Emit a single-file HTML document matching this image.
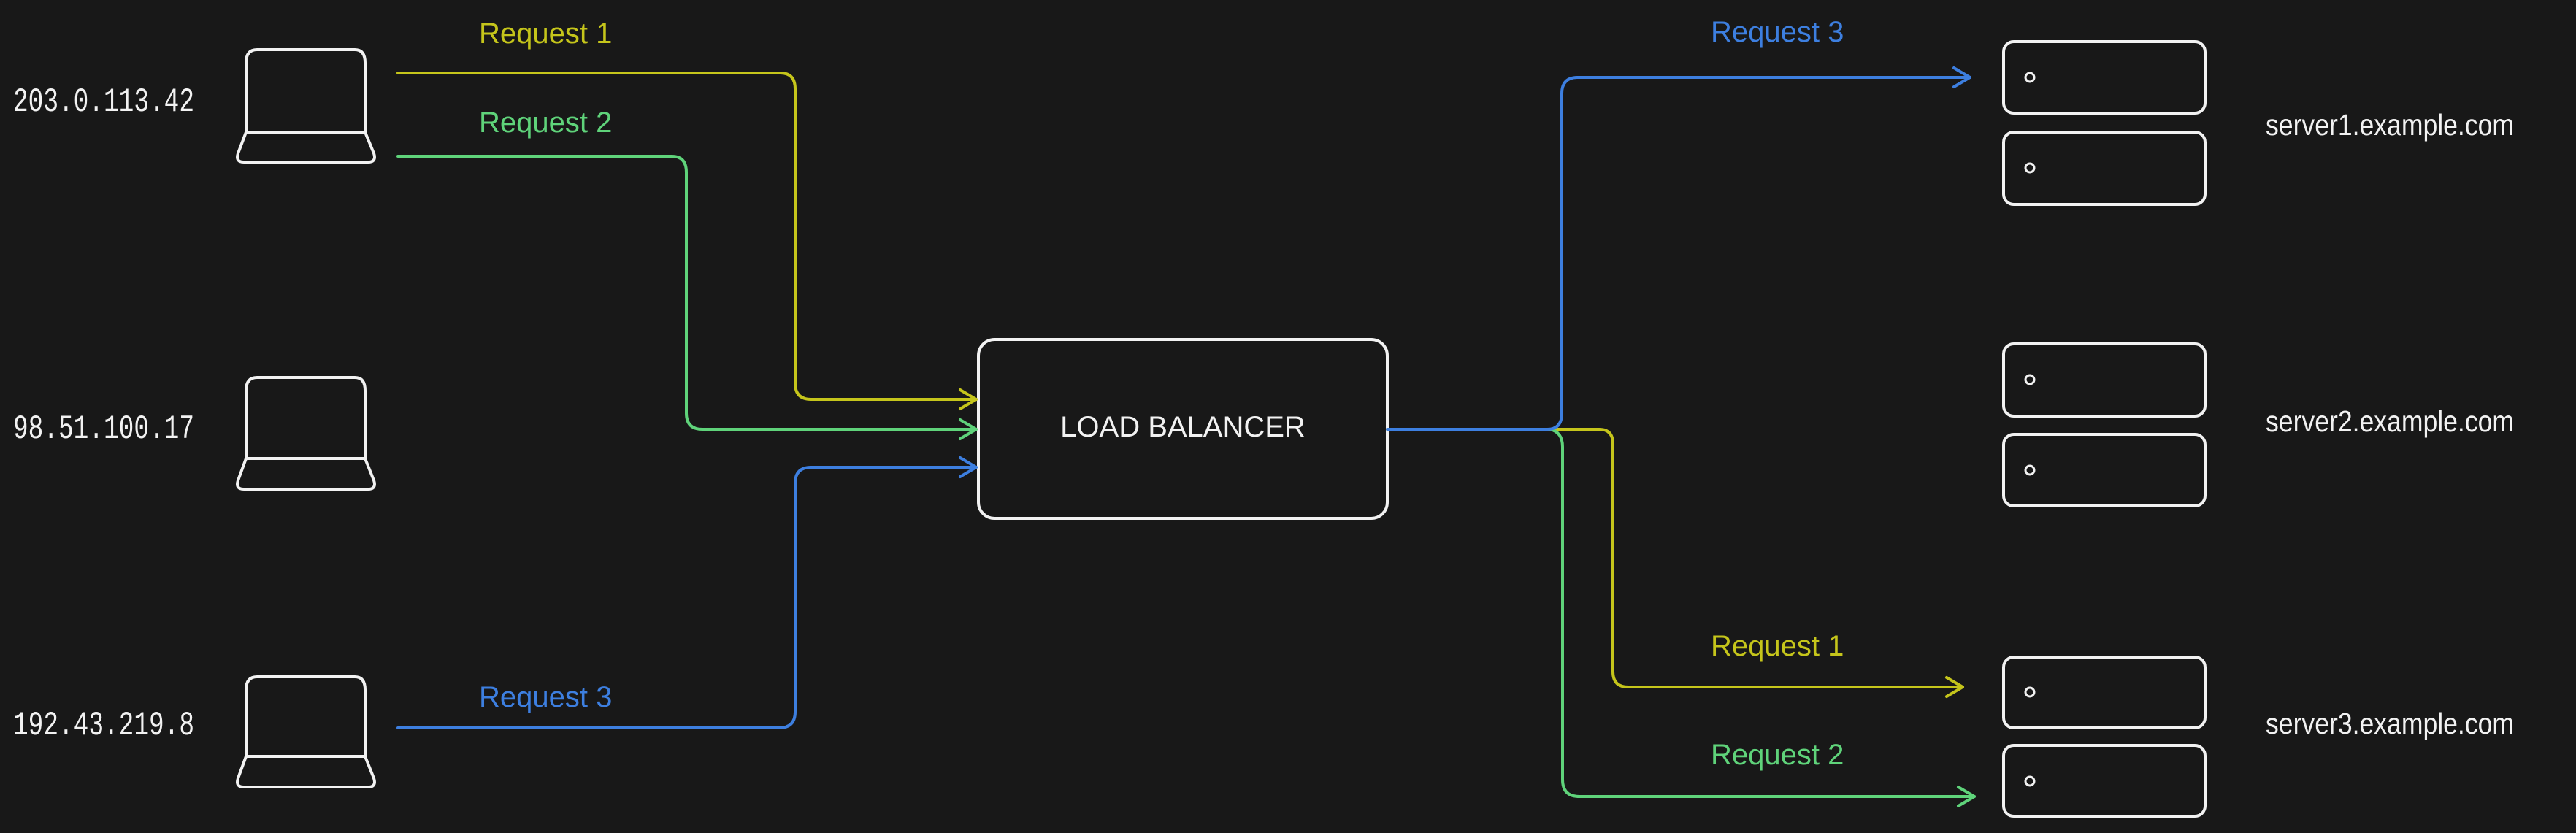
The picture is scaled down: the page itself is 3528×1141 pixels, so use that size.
<!DOCTYPE html>
<html><head><meta charset="utf-8"><style>
html,body{margin:0;padding:0;background:#181818;}
svg{display:block}
.s{font-family:"Liberation Sans",sans-serif;}
.m{font-family:"Liberation Mono",monospace;}
</style></head><body>
<svg width="3528" height="1141" viewBox="0 0 3528 1141" xmlns="http://www.w3.org/2000/svg">
<rect width="3528" height="1141" fill="#181818"/>
<g fill="none" stroke="#f2f2f2" stroke-width="4" stroke-linejoin="round">
  <path d="M352 68 H486 Q500 68 500 86 V181 H337 V86 Q337 68 352 68 Z"/>
  <path d="M337 181 L326 210 Q322 222 334 222 H504 Q516 222 512 210 L500 181"/>
  <path d="M352 517 H486 Q500 517 500 535 V628 H337 V535 Q337 517 352 517 Z"/>
  <path d="M337 628 L326 658 Q322 670 334 670 H504 Q516 670 512 658 L500 628"/>
  <path d="M352 927 H486 Q500 927 500 945 V1036 H337 V945 Q337 927 352 927 Z"/>
  <path d="M337 1036 L326 1066 Q322 1078 334 1078 H504 Q516 1078 512 1066 L500 1036"/>
  <rect x="1340" y="465" width="560" height="245" rx="22"/>
  <rect x="2744" y="57" width="276" height="98" rx="14"/>
  <rect x="2744" y="181" width="276" height="99" rx="14"/>
  <rect x="2744" y="471" width="276" height="99" rx="14"/>
  <rect x="2744" y="595" width="276" height="98" rx="14"/>
  <rect x="2744" y="900" width="276" height="97" rx="14"/>
  <rect x="2744" y="1021" width="276" height="97" rx="14"/>
  <g stroke-width="3">
    <circle cx="2780" cy="106" r="6"/>
    <circle cx="2780" cy="230" r="6"/>
    <circle cx="2780" cy="520" r="6"/>
    <circle cx="2780" cy="644" r="6"/>
    <circle cx="2780" cy="948" r="6"/>
    <circle cx="2780" cy="1070" r="6"/>
  </g>
</g>
<g fill="none" stroke-width="4" stroke-linecap="round" stroke-linejoin="round">
  <g stroke="#c5c51b">
    <path d="M545 100 H1069 Q1089 100 1089 122 V525 Q1089 547 1111 547 H1337"/>
    <path d="M1315 534 L1337 547 L1315 560"/>
    <path d="M1900 588 H2190 Q2209 588 2209 608 V920 Q2209 941 2230 941 H2688"/>
    <path d="M2666 928 L2688 941 L2666 954"/>
  </g>
  <g stroke="#5fd37a">
    <path d="M545 214 H920 Q940 214 940 236 V566 Q940 588 962 588 H1337"/>
    <path d="M1315 575 L1337 588 L1315 601"/>
    <path d="M2123 588 Q2140 592 2140 612 V1068 Q2140 1091 2163 1091 H2704"/>
    <path d="M2682 1078 L2704 1091 L2682 1104"/>
  </g>
  <g stroke="#3d7fe0">
    <path d="M545 997 H1067 Q1089 997 1089 975 V662 Q1089 640 1111 640 H1337"/>
    <path d="M1315 627 L1337 640 L1315 653"/>
    <path d="M1900 588 H2119 Q2139 588 2139 566 V128 Q2139 106 2161 106 H2698"/>
    <path d="M2676 93 L2698 106 L2676 119"/>
  </g>
</g>
<g font-size="40">
  <text class="s" x="656" y="59" fill="#c5c51b">Request 1</text>
  <text class="s" x="656" y="181" fill="#5fd37a">Request 2</text>
  <text class="s" x="656" y="968" fill="#3d7fe0">Request 3</text>
  <text class="s" x="2343" y="57" fill="#3d7fe0">Request 3</text>
  <text class="s" x="2343" y="898" fill="#c5c51b">Request 1</text>
  <text class="s" x="2343" y="1047" fill="#5fd37a">Request 2</text>
  <text class="s" x="1620" y="598" fill="#f2f2f2" text-anchor="middle">LOAD BALANCER</text>
</g>
<g font-size="41" fill="#f2f2f2">
  <text class="s" x="3103" y="185" textLength="340" lengthAdjust="spacingAndGlyphs">server1.example.com</text>
  <text class="s" x="3103" y="591" textLength="340" lengthAdjust="spacingAndGlyphs">server2.example.com</text>
  <text class="s" x="3103" y="1005" textLength="340" lengthAdjust="spacingAndGlyphs">server3.example.com</text>
</g>
<g font-size="46" fill="#f2f2f2">
  <text class="m" x="18" y="152" textLength="248" lengthAdjust="spacingAndGlyphs">203.0.113.42</text>
  <text class="m" x="18" y="600" textLength="248" lengthAdjust="spacingAndGlyphs">98.51.100.17</text>
  <text class="m" x="18" y="1006" textLength="248" lengthAdjust="spacingAndGlyphs">192.43.219.8</text>
</g>
</svg>
</body></html>
